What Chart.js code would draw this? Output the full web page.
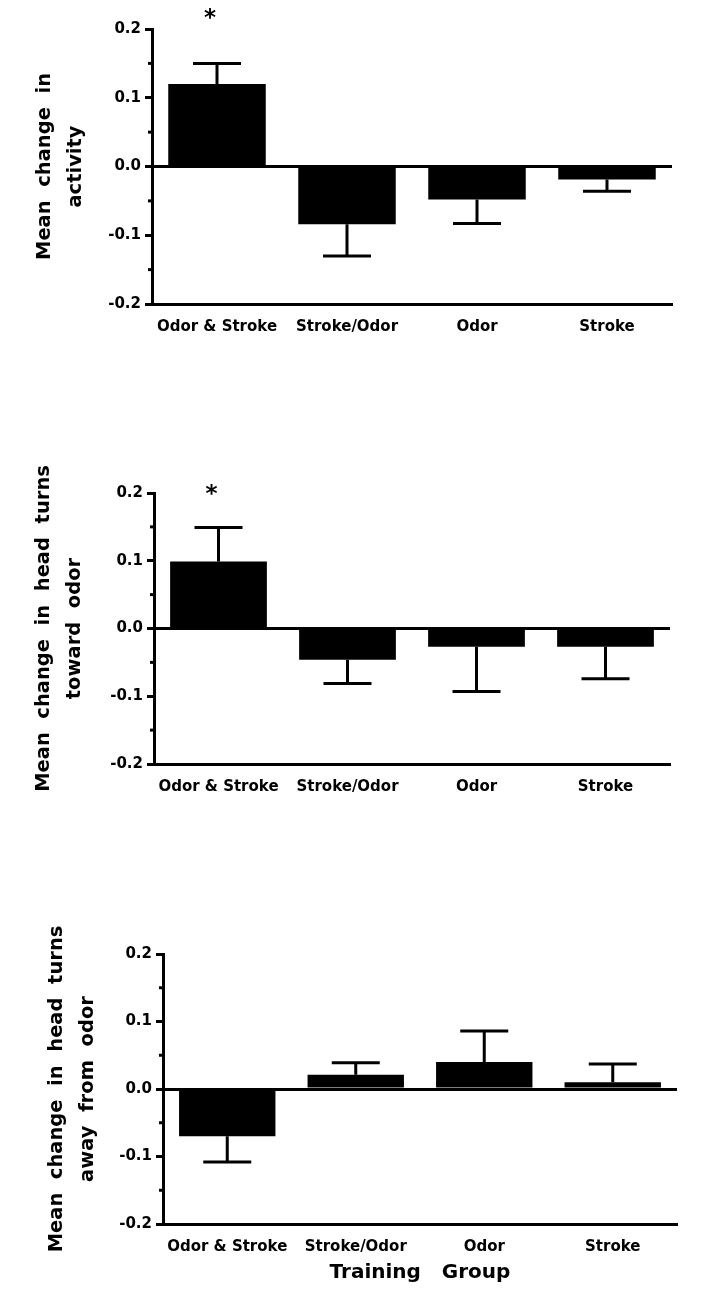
<!DOCTYPE html>
<html>
<head>
<meta charset="utf-8">
<script src="https://cdn.jsdelivr.net/npm/chart.js@4.4.0/dist/chart.umd.min.js"></script>
<style>
  body { margin: 0; background: #fff; }
  .panel { position: absolute; left: 0; width: 709px; }
</style>
</head>
<body>
<div class="panel" style="top:0;height:350px"><canvas id="activity"></canvas></div>
<div class="panel" style="top:460px;height:350px"><canvas id="toward"></canvas></div>
<div class="panel" style="top:920px;height:376px"><canvas id="away"></canvas></div>
<script>
// grupos de entrenamiento
const groups = ['Odor & Stroke', 'Stroke/Odor', 'Odor', 'Stroke'];

// medias y errores
const activityMean = [0.12, -0.084, -0.048, -0.019];
const activityErr  = [0.03, 0.046, 0.035, 0.017];
const towardMean   = [0.099, -0.046, -0.027, -0.027];
const towardErr    = [0.05, 0.035, 0.066, 0.047];
const awayMean     = [-0.07, 0.021, 0.04, 0.01];
const awayErr      = [0.038, 0.018, 0.046, 0.027];

// marcas de significancia
const activityMarks = ['*', '', '', ''];
const towardMarks   = ['*', '', '', ''];
const awayMarks     = ['', '', '', ''];

const minorTicks = [-0.15, -0.05, 0.05, 0.15];

const FONT = 'DejaVu Sans';

// barras de error + asterisco + ticks menores
const errorBars = {
  id: 'errorBars',
  afterDatasetsDraw(chart, args, opts) {
    const ctx = chart.ctx;
    const y = chart.scales.y;
    const area = chart.chartArea;
    const values = chart.data.datasets[0].data;
    ctx.save();
    ctx.strokeStyle = '#000';
    ctx.fillStyle = '#000';
    ctx.lineWidth = 3;
    chart.getDatasetMeta(0).data.forEach((bar, i) => {
      const v = values[i];
      const tip = y.getPixelForValue(v + Math.sign(v) * opts.errors[i]);
      ctx.beginPath();
      ctx.moveTo(bar.x, bar.y);
      ctx.lineTo(bar.x, tip);
      ctx.moveTo(bar.x - 24, tip);
      ctx.lineTo(bar.x + 24, tip);
      ctx.stroke();
      if (opts.marks[i]) {
        ctx.font = 'bold 23px ' + FONT;
        ctx.textAlign = 'center';
        ctx.textBaseline = 'alphabetic';
        ctx.fillText(opts.marks[i], bar.x + opts.markDx, area.top + opts.markDy);
      }
    });
    minorTicks.forEach(t => {
      const py = y.getPixelForValue(t);
      ctx.beginPath();
      ctx.moveTo(area.left - 4, py);
      ctx.lineTo(area.left, py);
      ctx.stroke();
    });
    ctx.restore();
  }
};

const makeChart = (id, cfg) => {
  return new Chart(document.getElementById(id), {
    type: 'bar',
    data: {
      labels: groups,
      datasets: [{
        data: cfg.values,
        backgroundColor: '#000',
        borderWidth: 0,
        categoryPercentage: 1,
        barPercentage: 0.75
      }]
    },
    options: {
      responsive: true,
      maintainAspectRatio: false,
      animation: false,
      layout: { padding: { left: 0, top: cfg.top, right: cfg.right, bottom: 0 } },
      plugins: {
        legend: { display: false },
        tooltip: { enabled: false },
        errorBars: { errors: cfg.errors, marks: cfg.marks, markDx: -7, markDy: cfg.markDy }
      },
      scales: {
        x: {
          grid: { display: false, drawTicks: false },
          border: { display: true, color: '#000', width: 3 },
          ticks: { color: '#000', padding: 14, font: { family: FONT, size: 15, weight: 'bold' } },
          title: {
            display: !!cfg.xTitle,
            text: cfg.xTitle || '',
            color: '#000',
            padding: { top: 0, bottom: 11 },
            font: { family: FONT, size: 20, weight: 'bold' }
          },
          afterFit: s => { s.height = cfg.xHeight; }
        },
        y: {
          min: -0.2,
          max: 0.2,
          ticks: {
            stepSize: 0.1,
            color: '#000',
            padding: 4,
            font: { family: FONT, size: 15, weight: 'bold' },
            callback: v => v.toFixed(1)
          },
          grid: {
            color: c => Math.abs(c.tick.value) < 1e-6 ? '#000' : 'rgba(0,0,0,0)',
            lineWidth: 3,
            tickColor: '#000',
            tickLength: 7,
            tickWidth: 3
          },
          border: { display: true, color: '#000', width: 3 },
          title: {
            display: true,
            text: cfg.yTitle,
            color: '#000',
            padding: { top: cfg.titlePad, bottom: 0 },
            font: { family: FONT, size: 19.5, weight: 'bold', lineHeight: 1.58 }
          },
          afterFit: s => { s.width = cfg.left; }
        }
      }
    },
    plugins: [errorBars]
  });
};

makeChart('activity', {
  values: activityMean, errors: activityErr, marks: activityMarks,
  yTitle: ['Mean  change  in', 'activity'],
  top: 29, left: 152, right: 37, xHeight: 46, titlePad: 30, markDy: -4
});

makeChart('toward', {
  values: towardMean, errors: towardErr, marks: towardMarks,
  yTitle: ['Mean  change  in  head  turns', 'toward  odor'],
  top: 33, left: 154, right: 39, xHeight: 46, titlePad: 29, markDy: 8
});

makeChart('away', {
  values: awayMean, errors: awayErr, marks: awayMarks,
  yTitle: ['Mean  change  in  head  turns', 'away  from  odor'],
  xTitle: 'Training   Group',
  top: 34, left: 163, right: 32, xHeight: 72, titlePad: 42, markDy: 0
});
</script>
</body>
</html>
